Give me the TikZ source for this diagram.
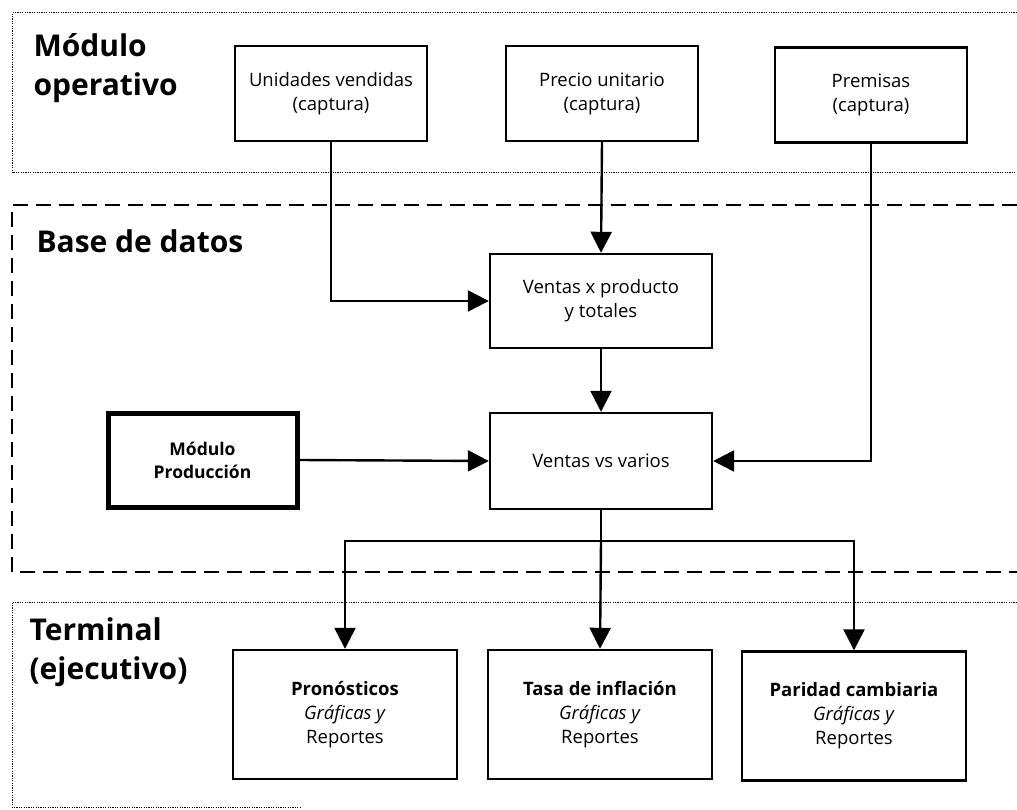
\documentclass[tikz,border=0pt]{standalone}
\usepackage{fontspec}
\setmainfont{Open Sans}
\usetikzlibrary{arrows.meta}
\begin{document}
\begin{tikzpicture}[x=1pt,y=-1pt,
  box/.style={draw,line width=2.4pt,align=center,font=\fontsize{18.5}{24}\selectfont,inner sep=2pt},
  heavybox/.style={box,line width=5pt},
  title/.style={anchor=north west,align=left,font=\fontsize{30}{39}\selectfont\bfseries},
  flow/.style={line width=2.4pt,-{Triangle[length=21pt,width=21pt]}},
  plain/.style={line width=2.4pt},
  zone/.style={line width=1pt,dash pattern=on 1.2pt off 1.2pt},
  dbzone/.style={line width=2pt,dash pattern=on 15pt off 8pt}]
\useasboundingbox (0,0) rectangle (1017,810);

% zone frames
\draw[zone] (1017,13) -- (12,13) -- (12,173) -- (1017,173);
\draw[dbzone] (1017,205) -- (12,205) -- (12,572) -- (1017,572);
\draw[zone] (1017,602) -- (12,602) -- (12,807) -- (300,807);

% zone titles
\node[title] (tOp) at (30,30) {Módulo\\operativo};
\node[title] (tDb) at (33,226) {Base de datos};
\node[title] (tTe) at (26,614) {Terminal\\(ejecutivo)};

% capture boxes
\node[box,minimum width=192pt,minimum height=95pt] (uv) at (331,93.5) {Unidades vendidas\\(captura)};
\node[box,minimum width=192pt,minimum height=95pt] (pu) at (602,93.5) {Precio unitario\\(captura)};
\node[box,minimum width=192pt,minimum height=95pt] (pr) at (871,95) {Premisas\\(captura)};

% database boxes
\node[box,minimum width=222pt,minimum height=94pt] (vp) at (601,301) {Ventas x producto\\y totales};
\node[box,minimum width=222pt,minimum height=96pt] (vv) at (601,461) {Ventas vs varios};
\node[heavybox,minimum width=189pt,minimum height=94pt,font=\fontsize{17.5}{23}\selectfont\bfseries] (mp) at (202.5,460) {Módulo\\Producción};

% report boxes
\node[box,minimum width=224pt,minimum height=129pt] (pn) at (345,714.5) {\textbf{Pronósticos}\\\textit{Gráficas y}\\Reportes};
\node[box,minimum width=224pt,minimum height=129pt] (ti) at (600,714.5) {\textbf{Tasa de inflación}\\\textit{Gráficas y}\\Reportes};
\node[box,minimum width=224pt,minimum height=129pt] (pc) at (854,716) {\textbf{Paridad cambiaria}\\\textit{Gráficas y}\\Reportes};

% connectors
\draw[flow] (uv.south) |- (vp.west);
\draw[flow] (pu.south) -- (vp.north);
\draw[flow] (vp.south) -- (vv.north);
\draw[flow] (mp.east) -- (vv.west);
\draw[flow] (pr.south) |- (vv.east);

\coordinate (split) at (601,541);
\draw[plain] (vv.south) -- (split);
\draw[flow] (split) -| (pn.north);
\draw[flow] (split) -- (ti.north);
\draw[flow] (split) -| (pc.north);
\end{tikzpicture}
\end{document}
